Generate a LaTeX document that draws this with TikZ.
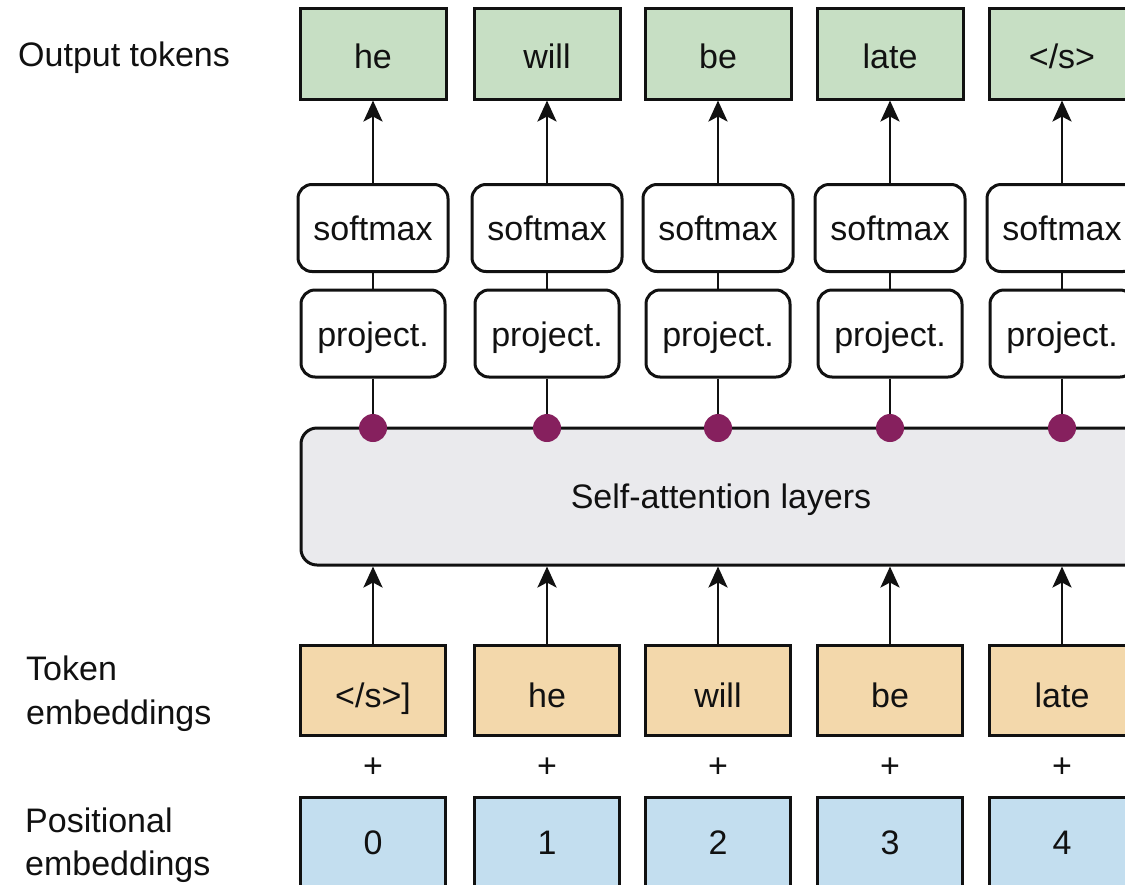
\documentclass[tikz,border=0pt]{standalone}
\usepackage{fontspec}
\setmainfont{Liberation Sans}
\usetikzlibrary{arrows.meta}
\definecolor{outgreen}{HTML}{C7DFC4}
\definecolor{tokorange}{HTML}{F3D8AB}
\definecolor{posblue}{HTML}{C3DEEF}
\definecolor{attgray}{HTML}{EAEAED}
\definecolor{dotpurple}{HTML}{86205E}
\definecolor{ink}{HTML}{111111}
\tikzset{
  txt/.style={font=\fontsize{34}{42}\selectfont, text=ink},
  btxt/.style={txt, text depth=2pt, inner sep=0pt, line width=3pt, draw=ink},
  outbox/.style={btxt, text height=32pt, fill=outgreen, minimum width=146pt, minimum height=91pt},
  tokbox/.style={btxt, text height=35pt, fill=tokorange, minimum width=145pt, minimum height=90pt},
  posbox/.style={btxt, text height=26pt, fill=posblue, minimum width=145pt, minimum height=90pt},
  smbox/.style={btxt, text height=26pt, fill=white, rounded corners=14pt, minimum width=150pt, minimum height=87pt},
  prbox/.style={btxt, text height=28pt, fill=white, rounded corners=14pt, minimum width=144pt, minimum height=87pt},
  conn/.style={draw=ink, line width=2.8pt},
  arr/.style={conn, -{Stealth[length=21pt,width=19pt,inset=5pt]}},
  pdot/.style={circle, fill=dotpurple, minimum size=28pt, inner sep=0pt},
  lab/.style={txt, anchor=west, align=left, inner sep=0pt},
}
\begin{document}
\begin{tikzpicture}[x=1pt,y=-1pt]
\useasboundingbox (0,0) rectangle (1125,884);
\clip (0,0) rectangle (1125,884);
\fill[white] (0,0) rectangle (1125,884);

% labels
\node[lab] (lout) at (18,58) {Output tokens};
\node[lab] (ltok) at (26,694) {Token\\[2pt]embeddings};
\node[lab] (lpos) at (25,845) {Positional\\[1pt]embeddings};

% attention block
\node[txt, draw=ink, line width=3pt, fill=attgray, rounded corners=16pt,
      minimum width=840pt, minimum height=137pt, inner sep=0pt] (att) at (721,496.5) {};
\node[txt] (atttext) at (721,500) {Self-attention layers};

% columns
\foreach \i/\x/\o/\t/\p in {1/373/he/{</s>]}/0, 2/547/will/he/1, 3/718/be/will/2, 4/890/late/be/3, 5/1062/{</s>}/late/4}{
  \node[outbox] (o\i) at (\x,53.5) {\o};
  \node[smbox] (s\i) at (\x,228) {softmax};
  \node[prbox] (p\i) at (\x,333.5) {project.};
  \coordinate (d\i) at (\x,428);
  \node[tokbox] (t\i) at (\x,690.5) {\t};
  \node[txt] (plus\i) at (\x,768) {+};
  \node[posbox] (e\i) at (\x,842) {\p};
  \draw[arr] (s\i.north) -- (o\i.south);
  \draw[conn] (p\i.north) -- (s\i.south);
  \draw[conn] (p\i.south) -- (d\i);
  \node[pdot] (dot\i) at (d\i) {};
  \draw[arr] (t\i.north) -- (t\i.north |- att.south);
}
\end{tikzpicture}
\end{document}
